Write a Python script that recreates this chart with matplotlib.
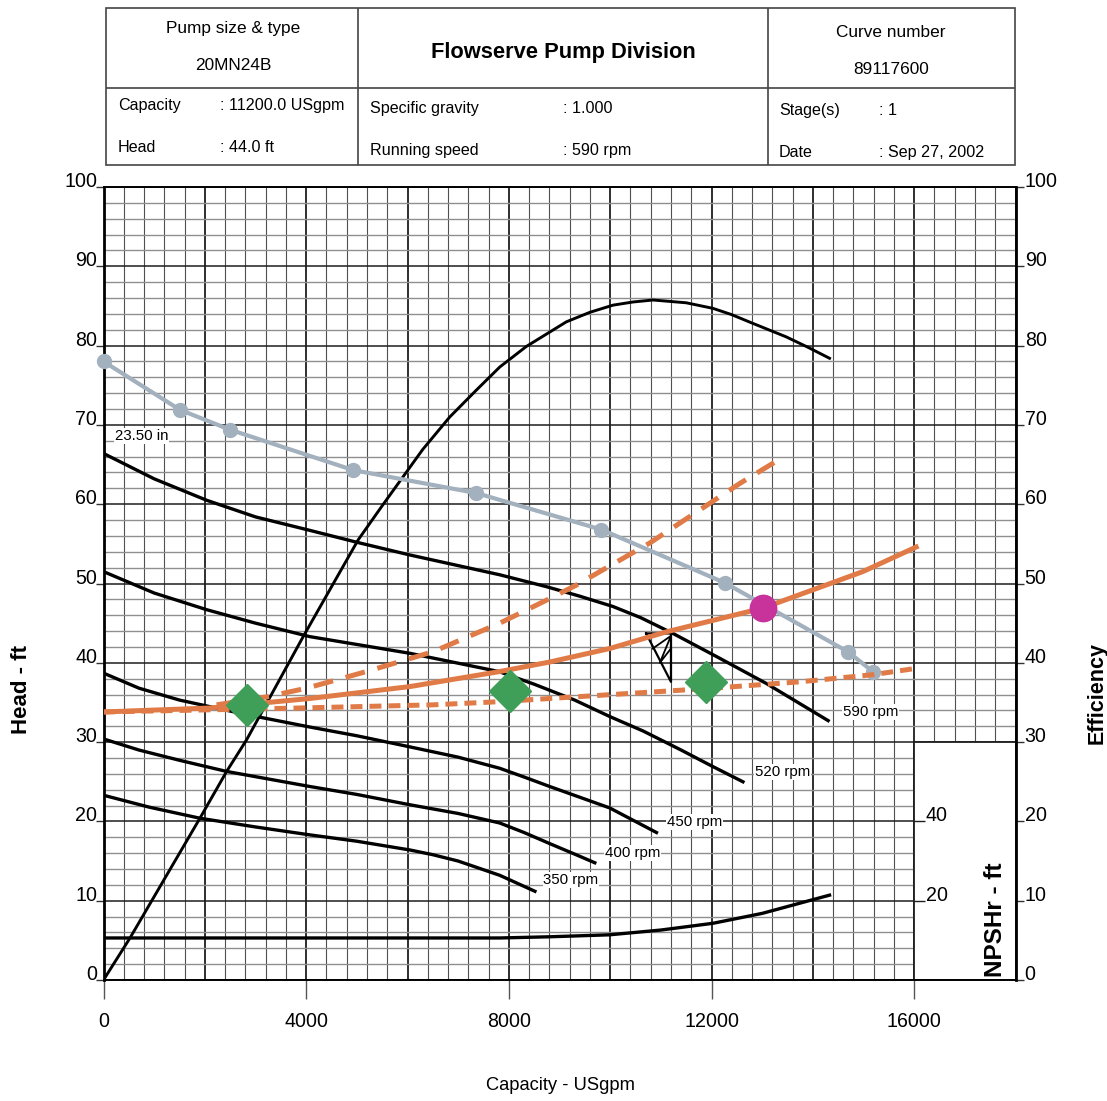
import numpy as np
import matplotlib
matplotlib.use('Agg')
import matplotlib.pyplot as plt
from matplotlib import font_manager
from matplotlib.patches import Rectangle

# ---- values (capacity in USgpm, head in ft) ----
head_590_q = [0, 1000, 2035, 3000, 4073, 5000, 6045, 7820, 8742, 9400, 10055, 10600,
              11240, 12095, 13080, 14330]
head_590_h = [66.4, 63.2, 60.5, 58.4, 56.7, 55.2, 53.6, 51.1, 49.6, 48.4, 47.1, 45.7,
              43.7, 40.8, 37.4, 32.6]
head_520_q = [0, 1000, 2035, 3000, 4073, 6045, 7800, 8500, 9300, 10000, 10650, 11400,
              12000, 12650]
head_520_h = [51.5, 48.8, 46.7, 45.0, 43.3, 41.2, 38.9, 37.3, 35.3, 33.2, 31.4, 29.0,
              27.0, 24.9]
head_450_q = [0, 700, 1500, 2800, 4073, 5000, 6045, 7000, 7820, 8300, 8807, 9990, 10943]
head_450_h = [38.7, 36.8, 35.3, 33.5, 31.9, 30.8, 29.4, 28.1, 26.7, 25.6, 24.4, 21.7, 18.5]
head_400_q = [0, 700, 1505, 2430, 4073, 5000, 6045, 7000, 7820, 8300, 8807, 9400, 9727]
head_400_h = [30.4, 29.0, 27.7, 26.3, 24.4, 23.4, 22.1, 21.0, 19.8, 18.6, 17.2, 15.6, 14.7]
head_350_q = [0, 900, 1903, 3000, 4073, 5000, 6045, 6500, 7000, 7821, 8545]
head_350_h = [23.3, 21.8, 20.4, 19.3, 18.3, 17.5, 16.4, 15.8, 15.0, 13.2, 11.1]

eff_q = [0, 523, 1903, 2430, 2825, 3941, 5026, 5500, 6300, 6834, 7361, 7821, 8347,
         9136, 9600, 10055, 10450, 10845, 11500, 12027, 12400, 12817, 13475, 13900, 14330]
eff_pct = [0, 5.3, 20.4, 26.3, 30.3, 43.3, 55.5, 59.8, 66.9, 71.0, 74.4, 77.3, 79.9,
           83.0, 84.2, 85.1, 85.5, 85.75, 85.4, 84.7, 83.9, 82.8, 81.1, 79.8, 78.4]

npshr_q = [0, 4000, 7820, 8807, 9990, 11000, 12027, 13000, 13606, 14330]
npshr_ft = [10.6, 10.6, 10.6, 10.9, 11.4, 12.6, 14.3, 16.8, 18.9, 21.4]

grey_q = [0, 1509, 2495, 4927, 7361, 9826, 12258, 14690, 15183]
grey_h = [78.0, 71.9, 69.4, 64.3, 61.4, 56.8, 50.1, 41.4, 38.9]

sys_q = [0, 2100, 4073, 6045, 7821, 8807, 9990, 11108, 13014, 14986, 16040]
sys_h = [33.8, 34.3, 35.5, 37.0, 38.9, 40.1, 41.8, 43.9, 46.9, 51.5, 54.6]
sys_hi_q = [2232, 3219, 4008, 5191, 6505, 7821, 8807, 9333, 10779, 12554, 13376]
sys_hi_h = [34.7, 35.7, 36.8, 38.9, 41.4, 45.0, 48.1, 49.8, 55.1, 62.6, 65.8]
sys_lo_q = [0, 3876, 6505, 7820, 8807, 9793, 12027, 13743, 15183, 16040]
sys_lo_h = [33.8, 34.3, 34.7, 35.1, 35.5, 35.9, 36.8, 37.6, 38.5, 39.3]

ops_q = [2825, 8018, 11897]
ops_h = [34.7, 36.4, 37.6]
duty_q = [13014]
duty_h = [46.9]

rated_q, rated_h = 11200.0, 44.0

speed_labels = ['590 rpm', '520 rpm', '450 rpm', '400 rpm', '350 rpm']
speed_label_q = [15140, 13400, 11670, 10445, 9225]
speed_label_h = [33.8, 26.2, 19.9, 16.0, 12.6]

x_ticks = [0, 4000, 8000, 12000, 16000]
y_ticks = list(range(0, 101, 10))
npshr_ticks = [20, 40]

# ---- fonts ----
names = {f.name for f in font_manager.fontManager.ttflist}
if 'Liberation Sans Narrow' in names:
    NARROW, K = 'Liberation Sans Narrow', 1.0
else:
    NARROW, K = 'Liberation Sans', 0.83
BOLD = 'Liberation Sans'

ORANGE = '#e07b47'
GREY = '#a2b1bd'
GREEN = '#3f9f58'
MAGENTA = '#c8339b'

fig = plt.figure(figsize=(11.07, 11.01), dpi=100)
ax = fig.add_axes([0.0935, 0.1099, 0.82385, 0.72025])
ax.set_xlim(0, 18000)
ax.set_ylim(0, 100)

# graph-paper grid
for x in np.arange(0, 18001, 400):
    major = x % 2000 == 0
    ax.axvline(x, color='#1e1e1e' if major else '#505050',
               lw=1.3 if major else 0.8, zorder=1)
for y in np.arange(0, 101, 2):
    major = y % 10 == 0
    ax.axhline(y, color='#1e1e1e' if major else '#8f8f8f',
               lw=1.1 if major else 1.0, zorder=1)

# blank NPSHr scale box in the lower right corner
ax.add_patch(Rectangle((16000, 0), 2000, 30, facecolor='white',
                       edgecolor='#1e1e1e', lw=1.3, zorder=1.5))
ax.hlines(np.array(npshr_ticks) / 2, 16000, 16220, color='#1e1e1e', lw=1, zorder=1.6)
for v in npshr_ticks:
    ax.text(16230, v / 2, str(v), ha='left', va='baseline', family=NARROW,
            fontsize=17 * K, zorder=2)

# pump curves
for q, h in [(head_590_q, head_590_h), (head_520_q, head_520_h),
             (head_450_q, head_450_h), (head_400_q, head_400_h),
             (head_350_q, head_350_h)]:
    ax.plot(q, h, color='black', lw=2.4, zorder=2, solid_capstyle='butt',
            solid_joinstyle='round')
ax.plot(eff_q, eff_pct, color='black', lw=2.1, zorder=2, solid_joinstyle='round')
ax.plot(npshr_q, np.array(npshr_ft) / 2, color='black', lw=2.4, zorder=2)

# rated point triangle
tri_q = [rated_q - 490, rated_q, rated_q, rated_q - 490]
tri_h = [rated_h - 0.3, rated_h - 0.3, rated_h - 6.4, rated_h - 0.3]
ax.plot(tri_q, tri_h, color='black', lw=1.6, zorder=2)
ax.plot([rated_q - 360, rated_q, rated_q - 220, rated_q],
        [rated_h - 2.2, rated_h - 0.6, rated_h - 4.0, rated_h - 2.2],
        color='black', lw=1.3, zorder=2)

# overlays
ax.plot(grey_q, grey_h, color=GREY, lw=3, marker='o', ms=10, zorder=3, clip_on=False)
ax.plot(sys_q, sys_h, color=ORANGE, lw=3.6, zorder=3)
ax.plot(sys_hi_q, sys_hi_h, color=ORANGE, lw=3.6, dashes=(4, 2.6), zorder=3)
ax.plot(sys_lo_q, sys_lo_h, color=ORANGE, lw=3.6, dashes=(2.4, 1.4), zorder=3)
ax.plot(ops_q, ops_h, ls='none', marker='D', ms=21, color=GREEN, zorder=4)
ax.plot(duty_q, duty_h, ls='none', marker='o', ms=19, color=MAGENTA, zorder=5)

# curve labels
for txt, q, h in zip(speed_labels, speed_label_q, speed_label_h):
    ax.text(q, h, txt, ha='center', va='center', family=NARROW, fontsize=13 * K,
            bbox=dict(fc='white', ec='none', pad=0.5), zorder=3)
ax.text(230, 68.6, '23.50 in', ha='left', va='center', family=NARROW,
        fontsize=13 * K, bbox=dict(fc='white', ec='none', pad=0.5), zorder=3)

# axes frame and ticks
for side in ['left', 'right']:
    ax.spines[side].set_linewidth(2)
for side in ['top', 'bottom']:
    ax.spines[side].set_linewidth(1.4)
ax.set_xticks(x_ticks)
ax.set_xticklabels([str(v) for v in x_ticks], family=NARROW, fontsize=17 * K)
ax.tick_params(axis='x', length=14, width=1, pad=9, color='#555')
ax.set_yticks(y_ticks)
ax.tick_params(axis='y', left=True, right=True, labelleft=False, length=6,
               width=1, color='#333')
for v in y_ticks:
    ax.text(-0.007, v, str(v), transform=ax.get_yaxis_transform(), ha='right',
            va='baseline', family=NARROW, fontsize=17 * K)
    ax.text(1.01, v, str(v), transform=ax.get_yaxis_transform(), ha='left',
            va='baseline', family=NARROW, fontsize=17 * K)

fig.text(560 / 1107, 1 - 1085 / 1101, 'Capacity - USgpm', ha='center', va='center',
         family=NARROW, fontsize=16 * K)
fig.text(22 / 1107, 1 - 690 / 1101, 'Head - ft', rotation=90, ha='center',
         va='center', family=BOLD, weight='bold', fontsize=16)
fig.text(1097 / 1107, 1 - 693 / 1101, 'Efficiency', rotation=90, ha='center',
         va='center', family=BOLD, weight='bold', fontsize=15.5)
fig.text(995 / 1107, 1 - 920 / 1101, 'NPSHr - ft', rotation=90, ha='center',
         va='center', family=BOLD, weight='bold', fontsize=17.5)

# ---- header block ----
hax = fig.add_axes([106 / 1107, 1 - 165 / 1101, 909 / 1107, 157 / 1101])
hax.set_xlim(0, 1)
hax.set_ylim(0, 1)
hax.axis('off')
hax.add_patch(Rectangle((0, 0), 1, 1, fill=False, ec='#444', lw=1.2, clip_on=False))
hax.axhline(0.4904, color='#444', lw=1.2)
hax.axvline(0.2772, color='#444', lw=1.2)
hax.axvline(0.7283, color='#444', lw=1.2)

hs = 15 * K
hax.text(0.1397, 0.8726, 'Pump size & type', ha='center', va='center', family=NARROW, fontsize=hs)
hax.text(0.1397, 0.6306, '20MN24B', ha='center', va='center', family=NARROW, fontsize=hs)
hax.text(0.5028, 0.7197, 'Flowserve Pump Division', ha='center', va='center',
         family=NARROW, weight='bold', fontsize=19 * K)
hax.text(0.8636, 0.8408, 'Curve number', ha='center', va='center', family=NARROW, fontsize=hs)
hax.text(0.8636, 0.6051, '89117600', ha='center', va='center', family=NARROW, fontsize=hs)

rows = [
    (0.0132, 0.1254, 0.3758, 'Capacity', ': 11200.0 USgpm'),
    (0.0132, 0.1254, 0.1146, 'Head', ': 44.0 ft'),
    (0.2904, 0.5028, 0.3630, 'Specific gravity', ': 1.000'),
    (0.2904, 0.5028, 0.0955, 'Running speed', ': 590 rpm'),
    (0.7404, 0.8504, 0.3500, 'Stage(s)', ': 1'),
    (0.7404, 0.8504, 0.0828, 'Date', ': Sep 27, 2002'),
]
for x0, x1, yy, name, val in rows:
    hax.text(x0, yy, name, ha='left', va='center', family=NARROW, fontsize=14 * K)
    hax.text(x1, yy, val, ha='left', va='center', family=NARROW, fontsize=14 * K)

fig.savefig('out.png', dpi=100, facecolor='white')
